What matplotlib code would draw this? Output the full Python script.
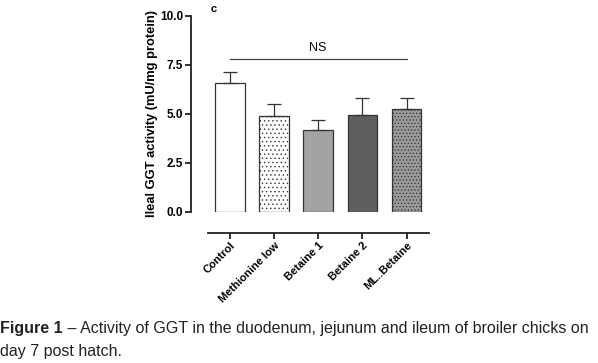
import matplotlib
matplotlib.use('Agg')
import matplotlib.pyplot as plt
import numpy as np

groups = ['Control', 'Methionine low', 'Betaine 1', 'Betaine 2', 'ML..Betaine']
means = [6.57, 4.88, 4.18, 4.93, 5.26]
sem = [0.56, 0.63, 0.53, 0.87, 0.57]
colors = ['white', 'white', '#a3a3a3', '#5f5f5f', '#9a9a9a']
hatches = ['', '....', '', '', '.....']

plt.rcParams['font.family'] = ['Liberation Sans', 'DejaVu Sans']
plt.rcParams['hatch.linewidth'] = 0.5
plt.rcParams['hatch.color'] = '#444444'

fig = plt.figure(figsize=(5.98, 3.63), dpi=100)
ax = fig.add_axes([0.319, 0.416, 0.398, 0.54])

x = np.arange(len(groups))
for i in range(len(groups)):
    ax.bar(x[i], means[i], width=0.67, color=colors[i], edgecolor='#333333',
           linewidth=0.9, hatch=hatches[i], zorder=2)
ax.errorbar(x, means, yerr=[np.zeros(len(sem)), sem], fmt='none',
            ecolor='#333333', elinewidth=0.9, capsize=5, capthick=0.9, zorder=3)

# NS bracket
ax.plot([x[0], x[-1]], [7.8, 7.8], color='#444444', lw=0.9)
ax.text((x[0] + x[-1]) / 2, 8.05, 'NS', ha='center', va='bottom', fontsize=9)

ax.set_xlim(-0.88, 4.5)
ax.set_ylim(0, 10)
ax.spines['top'].set_visible(False)
ax.spines['right'].set_visible(False)
ax.spines['bottom'].set_position(('outward', 15))
ax.spines['bottom'].set_bounds(-0.5, 4.5)
ax.spines['left'].set_bounds(0, 10)
for s in ['left', 'bottom']:
    ax.spines[s].set_linewidth(1.3)
    ax.spines[s].set_color('#222222')

ax.set_yticks([0, 2.5, 5.0, 7.5, 10.0])
ax.set_yticklabels(['0.0', '2.5', '5.0', '7.5', '10.0'], fontsize=8.5, fontweight='bold')
ax.set_xticks(x)
ax.set_xticklabels(groups, rotation=45, ha='right', rotation_mode='anchor',
                   fontsize=8, fontweight='bold')
ax.tick_params(axis='both', length=4, width=1.3, color='#222222', pad=1.5)
ax.set_ylabel('Ileal GGT activity (mU/mg protein)', fontsize=9.3, fontweight='bold',
              labelpad=1.5)
ax.text(-0.42, 10.2, 'c', fontsize=8, fontweight='bold')

fig.text(0.0, 0.083, 'Figure 1', fontsize=11.5, fontweight='bold', color='#222222')
fig.text(0.105, 0.083, ' \u2013 Activity of GGT in the duodenum, jejunum and ileum of broiler chicks on',
         fontsize=11.5, color='#222222')
fig.text(0.0, 0.02, 'day 7 post hatch.', fontsize=11.5, color='#222222')

fig.savefig('out.png', dpi=100)
